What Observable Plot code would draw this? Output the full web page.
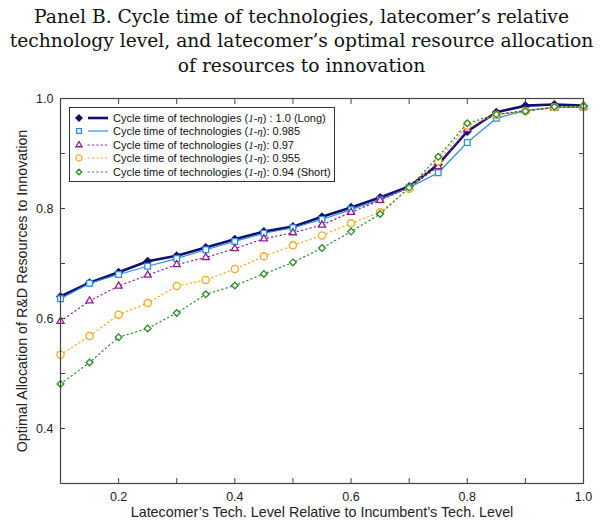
<!DOCTYPE html>
<html><head><meta charset="utf-8">
<script src="https://cdn.jsdelivr.net/npm/d3@7"></script>
<script src="https://cdn.jsdelivr.net/npm/@observablehq/plot@0.6"></script>
<style>
body{margin:0;background:#fff;}
#wrap{position:relative;width:603px;height:522px;overflow:hidden;}
#title{font-family:"DejaVu Serif",serif;font-size:18.7px;line-height:24.5px;text-align:center;padding-top:4.5px;color:#111;height:73.5px;}
#legend{position:absolute;left:69px;top:107px;width:264px;height:73px;border:1px solid #333;background:#fff;font-family:"Liberation Sans",Arial,sans-serif;font-size:11px;color:#111;}
.row{position:absolute;left:3px;height:13px;display:flex;align-items:center;white-space:nowrap;}
.row svg{margin-right:2px;}
.eta{font-family:"Liberation Serif",serif;font-style:italic;font-size:11px;}
</style></head>
<body>
<div id="wrap">
<div id="title">Panel B. Cycle time of technologies, latecomer’s relative<br>technology level, and latecomer’s optimal resource allocation<br>of resources to innovation</div>
<div id="chart"></div>
<div id="legend"></div>
</div>
<script>
const xValues = [0.1,0.15,0.2,0.25,0.3,0.35,0.4,0.45,0.5,0.55,0.6,0.65,0.7,0.75,0.8,0.85,0.9,0.95,1.0];
const seriesLabels = ["1.0 (Long)","0.985","0.97","0.955","0.94 (Short)"];
const s100 = [0.640,0.665,0.684,0.704,0.714,0.729,0.744,0.758,0.767,0.785,0.802,0.820,0.840,0.880,0.940,0.975,0.987,0.989,0.987];
const s985 = [0.636,0.664,0.680,0.695,0.709,0.725,0.740,0.755,0.765,0.780,0.798,0.816,0.838,0.865,0.920,0.964,0.978,0.984,0.984];
const s970 = [0.595,0.632,0.659,0.679,0.698,0.711,0.727,0.745,0.756,0.770,0.793,0.815,0.838,0.876,0.944,0.971,0.978,0.983,0.985];
const s955 = [0.534,0.568,0.607,0.628,0.659,0.670,0.690,0.713,0.733,0.751,0.773,0.793,0.836,0.886,0.951,0.970,0.977,0.984,0.985];
const s940 = [0.481,0.520,0.566,0.582,0.610,0.644,0.660,0.681,0.702,0.728,0.758,0.790,0.838,0.894,0.955,0.971,0.977,0.985,0.986];
const xTickLabels = [0.2,0.4,0.6,0.8,1.0];
const xMinorTicks = [0.2,0.3,0.4,0.5,0.6,0.7,0.8,0.9];
const yTickLabels = [0.4,0.6,0.8,1.0];
const yMinorTicks = [0.4,0.5,0.6,0.7,0.8,0.9];

const styles = [
  {color:"#10106e", width:2.6, dash:null, symbol:"diamond2", fill:true, r:3.3},
  {color:"#2b8fe8", width:1.2, dash:null, symbol:"square2", fill:false, r:3.6},
  {color:"#8e1c8e", width:1.2, dash:"1.2,3.2", symbol:"triangle2", fill:false, r:3.4},
  {color:"#f7a823", width:1.2, dash:"1.2,3.2", symbol:"circle", fill:false, r:3.6},
  {color:"#2a8a2a", width:1.2, dash:"1.2,3.2", symbol:"diamond2", fill:false, r:3.0}
];
const allSeries = [s100,s985,s970,s955,s940];

const seriesMarks = allSeries.flatMap((s,k)=>{
  const st = styles[k];
  const data = xValues.map((x,i)=>({x, y:s[i]}));
  return [
    Plot.line(data,{x:"x",y:"y",stroke:st.color,strokeWidth:st.width,strokeDasharray:st.dash,strokeLinecap:st.dash?"round":"butt"}),
    Plot.dot(data,{x:"x",y:"y",symbol:st.symbol,r:st.r,stroke:st.color,strokeWidth:1.3,fill:st.fill?st.color:"white"})
  ];
});

const chart = Plot.plot({
  width:603, height:444,
  marginTop:20, marginLeft:60, marginRight:20, marginBottom:39,
  x:{domain:[0.1,1.0]},
  y:{domain:[0.3,1.0]},
  style:{fontFamily:"'Liberation Sans',Arial,sans-serif",fontSize:"12.5px",color:"#222",background:"white"},
  marks:[
    ...seriesMarks,
    Plot.axisX({ticks:xTickLabels,tickSize:0,tickPadding:9,tickFormat:d3.format(".1f"),label:null}),
    Plot.axisX({ticks:[],tickSize:0,fontSize:14.3,
      label:"Latecomer’s Tech. Level Relative to Incumbent’s Tech. Level",labelAnchor:"center",labelArrow:"none",labelOffset:33}),
    Plot.axisX({ticks:xMinorTicks,tickSize:-5,tickFormat:()=>"",label:null,stroke:"#444"}),
    Plot.axisX({anchor:"top",ticks:xMinorTicks,tickSize:-5,tickFormat:()=>"",label:null,stroke:"#444"}),
    Plot.axisY({ticks:yTickLabels,tickSize:0,tickPadding:7,tickFormat:d3.format(".1f"),label:null}),
    Plot.axisY({ticks:[],tickSize:0,fontSize:14.3,
      label:"Optimal Allocation of R&D Resources to Innovation",labelAnchor:"center",labelArrow:"none",labelOffset:44}),
    Plot.axisY({ticks:yMinorTicks,tickSize:-5,tickFormat:()=>"",label:null,stroke:"#444"}),
    Plot.axisY({anchor:"right",ticks:yMinorTicks,tickSize:-5,tickFormat:()=>"",label:null,stroke:"#444"}),
    Plot.frame({stroke:"#444",strokeWidth:1.2})
  ]
});
document.getElementById("chart").appendChild(chart);

// legend
const legend = document.getElementById("legend");
const symPath = (name,r)=>{
  const map={diamond:d3.symbolDiamond,square2:d3.symbolSquare2,triangle2:d3.symbolTriangle2,circle:d3.symbolCircle,diamond2:d3.symbolDiamond2};
  return d3.symbol(map[name], Math.PI*r*r)();
};
seriesLabels.forEach((lab,k)=>{
  const st = styles[k];
  const row = document.createElement("div");
  row.className="row";
  row.style.top = (3 + k*13.5) + "px";
  row.innerHTML = `<svg width="38" height="12"><line x1="15" x2="35" y1="6" y2="6" stroke="${st.color}" stroke-width="${st.width}" ${st.dash?`stroke-dasharray="${st.dash}" stroke-linecap="round"`:""}/><path transform="translate(6,6)" d="${symPath(st.symbol,st.r*0.85)}" stroke="${st.color}" stroke-width="1.3" fill="${st.fill?st.color:"white"}"/></svg><span>Cycle time of technologies (<span class="eta">1-η</span>)${k===0?" : ":": "}${lab}</span>`;
  legend.appendChild(row);
});
</script>
</body></html>
